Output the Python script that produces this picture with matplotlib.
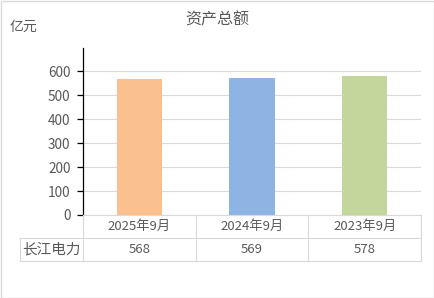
import matplotlib.pyplot as plt
from matplotlib.lines import Line2D
from matplotlib.patches import Rectangle

plt.rcParams['font.family'] = ['Noto Sans CJK SC', 'DejaVu Sans']

# data
periods = ["2025年9月", "2024年9月", "2023年9月"]
values = [568, 569, 578]
company = "长江电力"
colors = ["#FAC090", "#8EB4E3", "#C3D69B"]

W, H = 434, 298
fig = plt.figure(figsize=(W / 100, H / 100), dpi=100)
fig.add_artist(Rectangle((0.5 / W, 0.5 / H), 1 - 1 / W, 1 - 1 / H, transform=fig.transFigure,
                         fill=False, edgecolor="#D9D9D9", linewidth=1))

x0, x1 = 83, 421
y0, ytop = 215, 48
ax = fig.add_axes([x0 / W, 1 - y0 / H, (x1 - x0) / W, (y0 - ytop) / H])

x = range(len(periods))
ax.bar(x, values, width=0.4, color=colors, zorder=3)
ax.set_xlim(-0.5, len(periods) - 0.5)
ax.set_ylim(0, 696)
ax.set_yticks(range(0, 700, 100))
ax.yaxis.grid(True, color="#D9D9D9", linewidth=0.8, zorder=0)
ax.set_xticks([])
for s in ["top", "right", "bottom"]:
    ax.spines[s].set_visible(False)
ax.spines["left"].set_color("black")
ax.spines["left"].set_linewidth(0.9)
ax.tick_params(axis="y", length=4, width=0.9, colors="black", labelcolor="#595959", labelsize=9.8, pad=5)

# title and unit
fig.text(217 / W, 1 - 20 / H, "资产总额", ha="center", va="center", fontsize=11.5, color="#595959")
fig.text(10 / W, 1 - 27 / H, "亿元", ha="left", va="center", fontsize=10, color="#595959")

# data table under the axis
lc = "#D9D9D9"
row1, row2, row3 = 215, 238, 261
left_col = 20
def fx(px): return px / W
def fy(py): return 1 - py / H
col_edges = [x0 + i * (x1 - x0) / len(periods) for i in range(len(periods) + 1)]
fig.add_artist(Line2D([fx(x0), fx(x1)], [fy(row1)] * 2, color=lc, lw=0.8))
fig.add_artist(Line2D([fx(left_col), fx(x1)], [fy(row2)] * 2, color=lc, lw=0.8))
fig.add_artist(Line2D([fx(left_col), fx(x1)], [fy(row3)] * 2, color=lc, lw=0.8))
fig.add_artist(Line2D([fx(left_col)] * 2, [fy(row2), fy(row3)], color=lc, lw=0.8))
for ce in col_edges:
    fig.add_artist(Line2D([fx(ce)] * 2, [fy(row1), fy(row3)], color=lc, lw=0.8))

for i, (p, v) in enumerate(zip(periods, values)):
    cx = (col_edges[i] + col_edges[i + 1]) / 2
    fig.text(fx(cx), fy((row1 + row2) / 2), p, ha="center", va="center", fontsize=9.5, color="#595959")
    fig.text(fx(cx), fy((row2 + row3) / 2), str(v), ha="center", va="center", fontsize=9.5, color="#595959")
fig.text(fx((left_col + x0) / 2), fy((row2 + row3) / 2), company, ha="center", va="center",
         fontsize=10.5, color="#595959")

fig.savefig("out.png", dpi=100)
